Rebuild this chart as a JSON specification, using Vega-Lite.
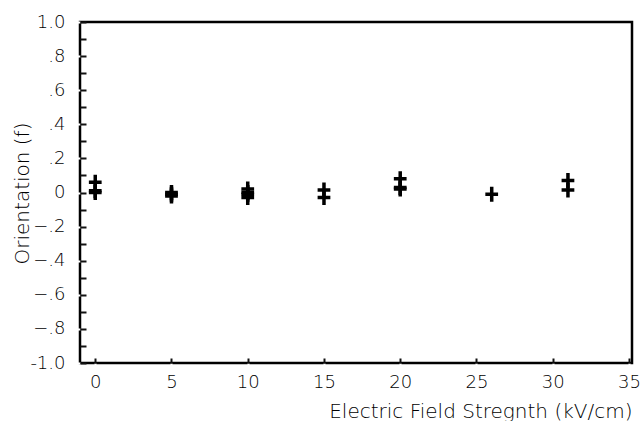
{
  "$schema": "https://vega.github.io/schema/vega-lite/v6.json",
  "autosize": "none",
  "width": 552,
  "height": 341,
  "padding": {"left": 80, "top": 22, "right": 10, "bottom": 58},
  "background": "white",
  "config": {
    "view": {"stroke": "black", "strokeWidth": 2.5},
    "font": "DejaVu Sans"
  },
  "data": {"values": [
    {"field": 0, "orientation": 0.06},
    {"field": 0, "orientation": 0.01},
    {"field": 0, "orientation": 0.0},
    {"field": 5, "orientation": 0.0},
    {"field": 5, "orientation": -0.01},
    {"field": 5, "orientation": -0.02},
    {"field": 10, "orientation": 0.02},
    {"field": 10, "orientation": 0.0},
    {"field": 10, "orientation": -0.01},
    {"field": 10, "orientation": -0.03},
    {"field": 15, "orientation": 0.015},
    {"field": 15, "orientation": -0.03},
    {"field": 20, "orientation": 0.08},
    {"field": 20, "orientation": 0.03},
    {"field": 20, "orientation": 0.02},
    {"field": 26, "orientation": -0.01},
    {"field": 31, "orientation": 0.07},
    {"field": 31, "orientation": 0.015}
  ]},
  "resolve": {"axis": {"x": "independent", "y": "independent"}},
  "layer": [
    {
      "mark": {"type": "point", "shape": "M0,-1V1M-0.85,0H0.85", "size": 225, "stroke": "black", "strokeWidth": 3.5, "filled": false, "opacity": 1},
      "encoding": {
        "x": {"field": "field", "type": "quantitative", "scale": {"domain": [-1, 35.2], "nice": false, "zero": false},
          "axis": {"orient": "bottom", "values": [0, 5, 10, 15, 20, 25, 30, 35], "domain": false, "grid": false, "ticks": true, "tickSize": 5, "tickColor": "white", "tickWidth": 2, "labelColor": "black", "labelFontSize": 18, "labelFontWeight": 200, "labelPadding": 5, "title": "Electric  Field  Stregnth (kV/cm)", "titleColor": "black", "titleFontSize": 20, "titleFontWeight": 200, "titleAnchor": "end", "titlePadding": 10}},
        "y": {"field": "orientation", "type": "quantitative", "scale": {"domain": [-1, 1], "nice": false},
          "axis": {"orient": "left",
            "values": [-1, -0.8, -0.6, -0.4, -0.2, 0, 0.2, 0.4, 0.6, 0.8, 1],
            "domain": false, "grid": false, "ticks": true, "tickSize": 8, "tickColor": "white", "tickWidth": 2,
            "labelColor": "black", "labelFontSize": 18, "labelFontWeight": 200,
            "labelPadding": 7,
            "labelExpr": "datum.value == 1 ? '1.0' : datum.value == -1 ? '-1.0' : datum.value == 0 ? '0' : replace(format(datum.value, '.1f'), '0.', '.')",
            "title": "Orientation (f)", "titleColor": "black", "titleFontSize": 20, "titleFontWeight": 200, "titleX": -58, "titleY": 171, "titleAlign": "center", "titleBaseline": "middle", "titleAngle": -90}}
      }
    },
    {
      "mark": {"type": "point", "opacity": 0},
      "encoding": {
        "x": {"field": "field", "type": "quantitative", "axis": {"orient": "top", "offset": -341, "values": [0, 5, 10, 15, 20, 25, 30, 35], "domain": false, "grid": false, "ticks": true, "tickSize": 5, "tickColor": "#111111", "tickWidth": 2, "labels": false, "title": null}},
        "y": {"field": "orientation", "type": "quantitative",
          "axis": {"orient": "right", "offset": -552, "domain": false, "grid": false, "ticks": true, "tickColor": "#111111", "tickWidth": 2,
            "values": [-1, -0.9, -0.8, -0.7, -0.6, -0.5, -0.4, -0.3, -0.2, -0.1, 0, 0.1, 0.2, 0.3, 0.4, 0.5, 0.6, 0.7, 0.8, 0.9, 1],
            "tickSize": 6,
            "labels": false, "title": null}}
      }
    }
  ]
}
